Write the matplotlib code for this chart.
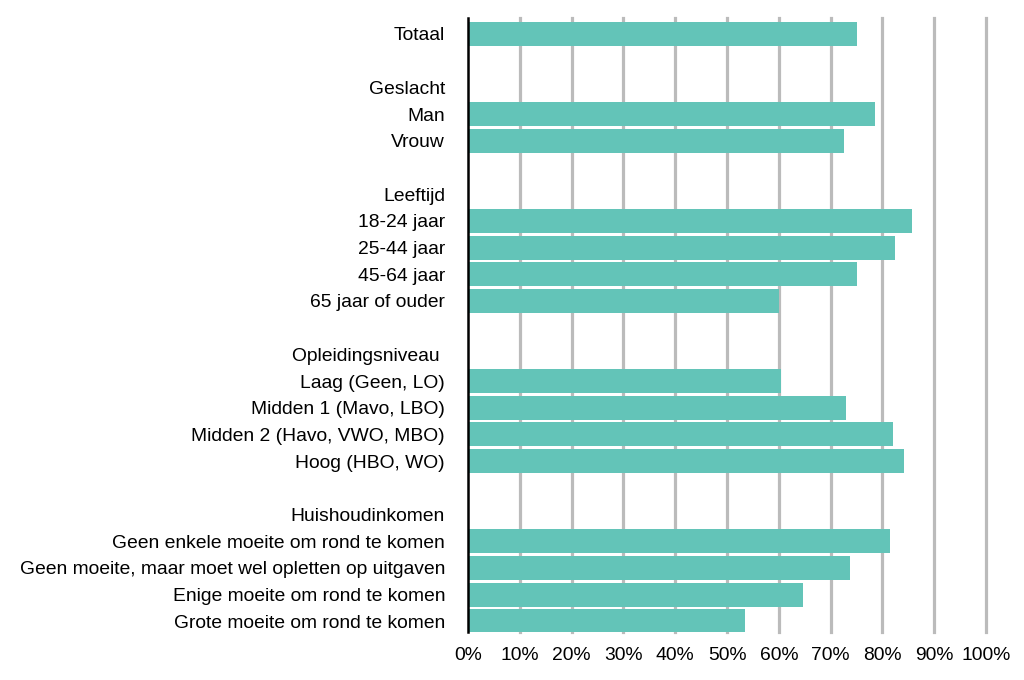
import matplotlib
matplotlib.use("Agg")
from matplotlib import pyplot as plt

plt.rcParams['font.family'] = ['Liberation Sans', 'DejaVu Sans']

labels = ['Totaal', '', 'Geslacht', 'Man', 'Vrouw', '',
          'Leeftijd', '18-24 jaar', '25-44 jaar', '45-64 jaar', '65 jaar of ouder', '',
          'Opleidingsniveau ', 'Laag (Geen, LO)', 'Midden 1 (Mavo, LBO)',
          'Midden 2 (Havo, VWO, MBO)', 'Hoog (HBO, WO)', '',
          'Huishoudinkomen', 'Geen enkele moeite om rond te komen',
          'Geen moeite, maar moet wel opletten op uitgaven',
          'Enige moeite om rond te komen', 'Grote moeite om rond te komen']
values = [75.1, None, None, 78.6, 72.6, None,
          None, 85.7, 82.5, 75.0, 60.0, None,
          None, 60.4, 73.0, 82.1, 84.2, None,
          None, 81.5, 73.8, 64.7, 53.4]
ticks = list(range(0, 101, 10))

fig = plt.figure(figsize=(10.24, 6.8), dpi=100)
ax = fig.add_axes([0.457, 0.0706, 0.506, 0.903])

ys = [i for i, v in enumerate(values) if v is not None]
vs = [v for v in values if v is not None]
ax.barh(ys, vs, height=0.9, color='#63c4b8', zorder=3)

for t in ticks[1:]:
    ax.axvline(t, color='#bbbbbb', linewidth=2.3, zorder=1, clip_on=False)
ax.axvline(0, color='black', linewidth=1.8, zorder=4, clip_on=False)

ax.set_xlim(0, 100)
ax.set_ylim(len(labels) - 0.6, -0.6)
ax.set_yticks(range(len(labels)))
ax.set_yticklabels(labels, fontsize=13.9)
ax.set_xticks(ticks)
ax.set_xticklabels([f'{t}%' for t in ticks], fontsize=13.9)
ax.tick_params(axis='y', length=0, pad=16.5)
ax.tick_params(axis='x', length=0, pad=10.5)
for s in ax.spines.values():
    s.set_visible(False)

fig.savefig('out.png', dpi=100)
